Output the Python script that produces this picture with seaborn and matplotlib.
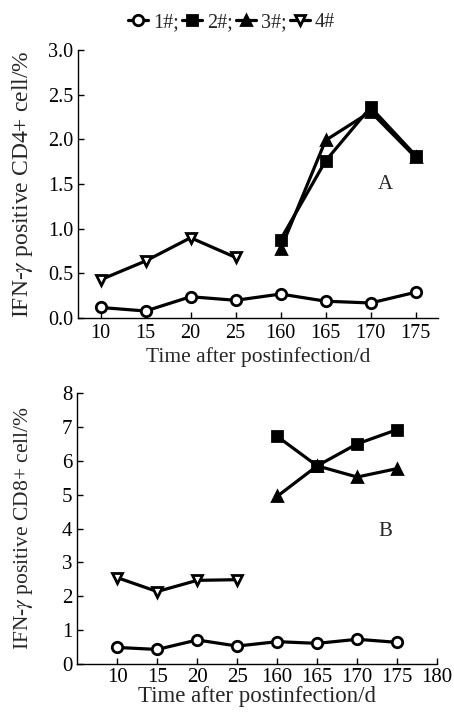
import numpy as np
import pandas as pd
import matplotlib.pyplot as plt
import seaborn as sns

# x eksenindeki gunler (kategorik)
gunler_a = ['10', '15', '20', '25', '160', '165', '170', '175']
gunler_b = ['10', '15', '20', '25', '160', '165', '170', '175', '180']

# A paneli - CD4+ hucreleri
a_s1 = [0.12, 0.08, 0.24, 0.20, 0.27, 0.19, 0.17, 0.29]   # 1#, tum gunler
a_s4 = [0.43, 0.64, 0.90, 0.68]                           # 4#, 10-25
a_s2 = [0.88, 1.76, 2.36, 1.82]                           # 2#, 160-175
a_s3 = [0.77, 1.99, 2.31, 1.80]                           # 3#, 160-175

# B paneli - CD8+ hucreleri
b_s1 = [0.49, 0.43, 0.71, 0.53, 0.66, 0.61, 0.73, 0.64]
b_s4 = [2.55, 2.14, 2.47, 2.49]
b_s2 = [6.72, 5.85, 6.50, 6.92]
b_s3 = [4.95, 5.85, 5.52, 5.77]

sns.set_theme(style='ticks')
plt.rcParams['font.family'] = ['Liberation Serif', 'DejaVu Serif']
plt.rcParams['mathtext.fontset'] = 'stix'

fig = plt.figure(figsize=(4.54, 7.15), dpi=100)
ax1 = fig.add_axes([0.172, 0.555, 0.793, 0.375])
ax2 = fig.add_axes([0.170, 0.0713, 0.793, 0.379])

stil = dict(color='black', linewidth=2.3, markersize=7.5, markeredgewidth=2,
            markeredgecolor='black')


def ciz(ax, x0, s1, s2, s3, s4):
    x_tum = np.arange(len(s1)) + x0
    x_ilk = x_tum[:4]
    x_son = x_tum[4:]
    sns.lineplot(x=x_tum, y=s1, ax=ax, marker='o', markerfacecolor='white', **stil)
    sns.lineplot(x=x_son, y=s2, ax=ax, marker='s', markerfacecolor='black', **stil)
    sns.lineplot(x=x_son, y=s3, ax=ax, marker='^', markerfacecolor='black', **stil)
    sns.lineplot(x=x_ilk, y=s4, ax=ax, marker='v', markerfacecolor='white', **stil)
    for sp in ['top', 'right']:
        ax.spines[sp].set_visible(False)
    for sp in ['left', 'bottom']:
        ax.spines[sp].set_linewidth(1.0)
        ax.spines[sp].set_color('black')
    ax.tick_params(direction='in', length=4, width=1, colors='black')


# A paneli
ciz(ax1, 0, a_s1, a_s2, a_s3, a_s4)
ax1.set_xlim(-0.5, 7.5)
ax1.set_ylim(0, 3.0)
ax1.set_xticks(range(len(gunler_a)))
ax1.set_xticklabels(gunler_a)
ax1.set_yticks(np.arange(0, 3.01, 0.5))
ax1.set_yticklabels([f'{v:.1f}' for v in np.arange(0, 3.01, 0.5)])
ax1.tick_params(labelsize=14.5)
ax1.tick_params(axis='x', pad=4)
ax1.set_xlabel('Time after postinfection/d', fontsize=15.5, labelpad=3)
ax1.set_ylabel(r'IFN-$\gamma$ positive CD4+ cell/%', fontsize=17, labelpad=9)
ax1.text(6.32, 1.5, 'A', fontsize=15, ha='center', va='center')

# B paneli
ciz(ax2, 1, b_s1, b_s2, b_s3, b_s4)
ax2.set_xlim(0, 9)
ax2.set_ylim(0, 8)
ax2.set_xticks(range(1, len(gunler_b) + 1))
ax2.set_xticklabels(gunler_b)
ax2.set_yticks(range(0, 9))
ax2.tick_params(labelsize=15)
ax2.tick_params(axis='x', pad=3)
ax2.set_xlabel('Time after postinfection/d', fontsize=16.5, labelpad=-1)
ax2.set_ylabel(r'IFN-$\gamma$ positive CD8+ cell/%', fontsize=15.5, labelpad=19)
ax2.text(7.7, 3.9, 'B', fontsize=15, ha='center', va='center')

# ust kisimdaki ortak lejant
hatlar = ax1.get_lines()
etiketler = ['1#;', '2#;', '3#;', '4#']
fig.legend([hatlar[0], hatlar[1], hatlar[2], hatlar[3]], etiketler,
           loc='center', bbox_to_anchor=(0.51, 0.968), ncol=4, frameon=False,
           fontsize=14.5, handlelength=1.0, handletextpad=0.25, columnspacing=0.15,
           borderaxespad=0)

fig.savefig('out.png', dpi=100)
